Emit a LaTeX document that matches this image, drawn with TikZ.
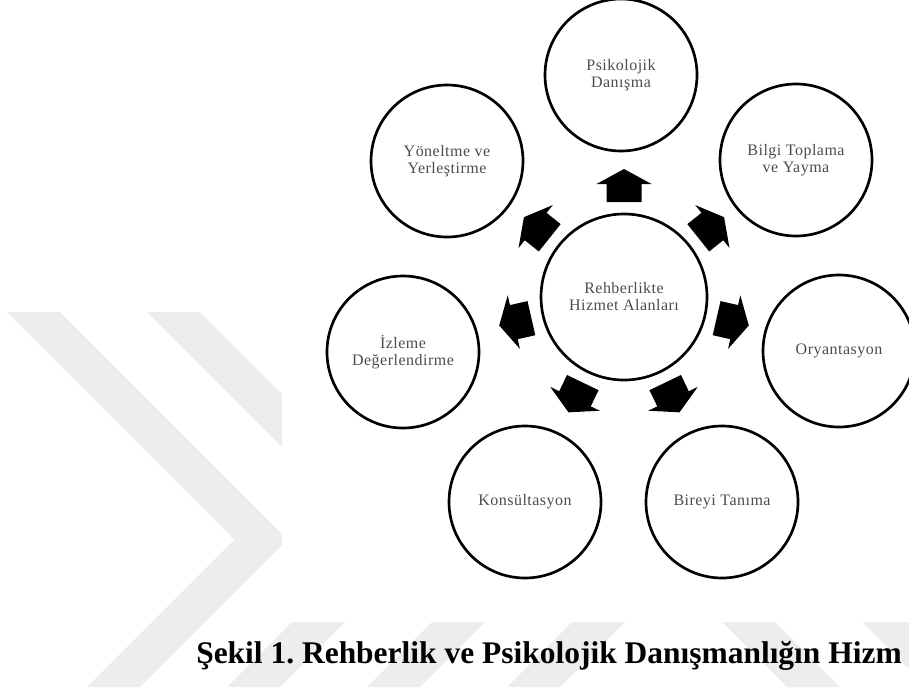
\documentclass[tikz,border=0pt]{standalone}
\usepackage{fontspec}
\setmainfont{Liberation Serif}
\frenchspacing
\begin{document}
\begin{tikzpicture}[x=0.75pt,y=0.75pt,
  ring/.style={circle,draw=black,line width=2pt,minimum size=114pt,inner sep=0pt,
    align=center,font=\fontsize{12}{12.75}\selectfont\addfontfeatures{LetterSpace=3},text=black!70},
  hub/.style={ring,minimum size=124.5pt},
  blockarrow/.style={fill=black,draw=none},
  wm/.style={fill=black!7,draw=none},
  captionstyle/.style={anchor=base west,inner sep=0pt,font=\fontsize{23.6}{28}\selectfont\bfseries}]
\useasboundingbox (0,0) rectangle (909,687);
% watermark (outside the white figure area)
\begin{scope}
  \clip (0,0) -- (0,687) -- (282,687) -- (282,65) -- (909,65) -- (909,0) -- cycle;
  \foreach \s in {0,140,280,420}{
    \fill[wm, xshift=\s*0.75pt] (7,375) -- (60,375) -- (287.5,147.5) -- (140,0) -- (87,0) -- (234.5,147.5) -- cycle;
  }
  \foreach \s in {0,140}{
    \fill[wm, xshift=\s*0.75pt] (722,65) -- (775,65) -- (840,0) -- (787,0) -- cycle;
  }
\end{scope}
% circles
\node[hub]  (c)  at (624,390) {Rehberlikte\\Hizmet Alanları};
\node[ring] (p1) at (621,612) {Psikolojik\\Danışma};
\node[ring] (p2) at (796,527) {Bilgi Toplama\\ve Yayma};
\node[ring] (p3) at (839,336) {Oryantasyon};
\node[ring] (p4) at (722,185) {Bireyi Tanıma};
\node[ring] (p5) at (525,185) {Konsültasyon};
\node[ring] (p6) at (403,335) {İzleme\\Değerlendirme};
\node[ring] (p7) at (447,526) {Yöneltme ve\\Yerleştirme};
% block arrows
\foreach \k in {0,...,6}{
  \pgfmathsetmacro\ang{90-\k*360/7}
  \fill[blockarrow, shift={(c.center)}, rotate=\ang]
    (95,-17.5) -- (113,-17.5) -- (113,-27.5) -- (128,0) -- (113,27.5) -- (113,17.5) -- (95,17.5) -- cycle;
}
% caption
\node[captionstyle] (cap) at (196,24) {Şekil 1. Rehberlik ve Psikolojik Danışmanlığın Hizm};
\end{tikzpicture}
\end{document}
